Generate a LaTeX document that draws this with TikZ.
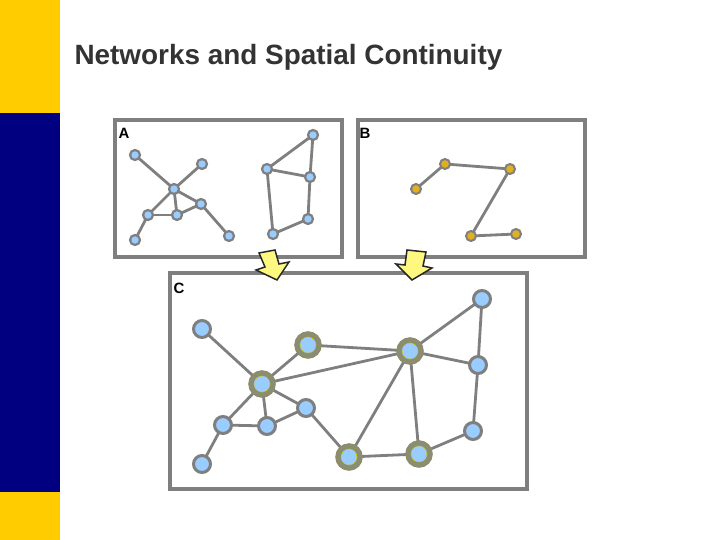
\documentclass[tikz,border=0pt]{standalone}
\usepackage{fontspec}
\setmainfont{Liberation Sans}
\usetikzlibrary{backgrounds}
\definecolor{nblue}{HTML}{99CCFF}
\definecolor{ngray}{HTML}{7F7F7F}
\definecolor{ring}{HTML}{8C8C6E}
\definecolor{gold}{HTML}{E0B020}
\definecolor{bary}{HTML}{FFCC00}
\definecolor{barb}{HTML}{000080}
\begin{document}
\begin{tikzpicture}[x=1bp,y=-1bp,
  edge/.style={draw=ngray,line width=2.8bp},
  frame/.style={draw=ngray,line width=3.5bp},
  sn/.style={circle,fill=nblue,draw=ngray,line width=2.2bp,inner sep=0pt,minimum size=10bp},
  on/.style={circle,fill=gold,draw=ngray,line width=2bp,inner sep=0pt,minimum size=10bp},
  cn/.style={circle,fill=nblue,draw=ngray,line width=3bp,inner sep=0pt,minimum size=17bp},
  dn/.style={circle,fill=nblue,draw=ring,line width=5.5bp,inner sep=0pt,minimum size=22bp},
  rg/.style={draw=yellow!60!olive,line width=0.6bp,dashed},
  arr/.style={fill=yellow!50,draw=black!85,line width=1.5bp,line join=miter},
  lab/.style={font=\bfseries\fontsize{15}{16}\selectfont,anchor=west}]
\useasboundingbox (0,0) rectangle (720,540);
\fill[bary] (0,0) rectangle (60,113);
\fill[barb] (0,113) rectangle (60,492);
\fill[bary] (0,492) rectangle (60,540);
\node[anchor=west,font=\bfseries\fontsize{28}{32}\selectfont,text=black!80] (title) at (71,57) {Networks and Spatial Continuity};
% frames
\draw[frame] (115,120) rectangle (342,257);
\draw[frame] (358,120) rectangle (585,257);
\draw[frame] (170,273) rectangle (527,489);
\node[lab] (la) at (115,133) {A};
\node[lab] (lb) at (356,133) {B};
\node[lab] (lc) at (170,288) {C};
% arrows
\draw[arr] (259,253) -- (275,250) -- (279,264) -- (289,262) -- (277,280) -- (256,270) -- (265,267) -- cycle;
\draw[arr] (407,250) -- (426,252) -- (423,266) -- (432,268) -- (412,280) -- (396,264) -- (405,265) -- cycle;
% A
\foreach \n/\x/\y in {a1/135/155,a2/202/164,a3/174/189,a4/148/215,a5/177/215,a6/201/204,a7/229/236,a8/135/240,
  b1/313/135,b2/267/169,b3/310/177,b4/308/219,b5/273/234}
  \node[sn] (\n) at (\x,\y) {};
% B
\foreach \n/\x/\y in {o1/445/164,o2/510/169,o3/416/189,o4/471/236,o5/516/234}
  \node[on] (\n) at (\x,\y) {};
% C
\foreach \n/\x/\y in {c1/482/299,c2/202/329,c5/478/365,c7/306/408,c8/223/425,c9/267/426,c10/473/431,c13/202/464}
  \node[cn] (\n) at (\x,\y) {};
\foreach \n/\x/\y in {c3/308/345,c4/410/351,c6/262/384,c11/349/457,c12/419/454}
  {\node[dn] (\n) at (\x,\y) {};
   \draw[rg] (\n.center) circle (8bp);}
\begin{pgfonlayer}{background}
\foreach \p/\q in {a1/a3,a2/a3,a3/a4,a3/a5,a3/a6,a4/a5,a5/a6,a6/a7,a4/a8,b1/b2,b1/b3,b2/b3,b3/b4,b4/b5,b2/b5,
  o1/o2,o1/o3,o2/o4,o4/o5,
  c2/c6,c3/c6,c3/c4,c6/c4,c6/c7,c6/c8,c6/c9,c8/c9,c9/c7,c8/c13,c7/c11,c4/c11,c4/c12,c4/c5,c4/c1,c1/c5,c5/c10,c10/c12,c11/c12}
  \path[edge] (\p.center) -- (\q.center);
\end{pgfonlayer}
\end{tikzpicture}
\end{document}
